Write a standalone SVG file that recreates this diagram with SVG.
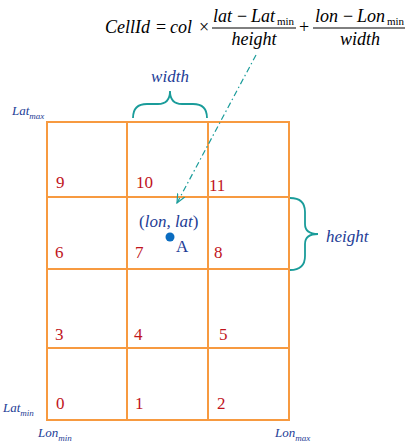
<svg xmlns="http://www.w3.org/2000/svg" width="412" height="445" viewBox="0 0 412 445">
<defs>
<style>
text{font-family:"Liberation Serif","DejaVu Serif","Times New Roman",serif}
.f{font-size:18px;fill:#000}
.i{font-style:italic}
.sub{font-size:11px;fill:#000}
.lb{font-style:italic;fill:#233C96}
.num{font-size:17px;fill:#C0141C}
.grid{fill:none;stroke:#F79A40;stroke-width:2}
.brace{fill:none;stroke:#1A9C9A;stroke-width:1.8}
</style>
<marker id="ah" viewBox="0 0 10 10" refX="9" refY="5" markerWidth="10" markerHeight="10" markerUnits="userSpaceOnUse" orient="auto">
<path d="M0,1 L9,5 L0,9" fill="none" stroke="#1A9C9A" stroke-width="1.2"/>
</marker>
</defs>
<g id="formula">
<text class="f i" x="105" y="33">CellId</text>
<text class="f" x="156" y="33">=</text>
<text class="f i" x="170" y="33">col</text>
<text class="f" x="199" y="33">×</text>
<text class="f i" x="213" y="22">lat</text>
<text class="f" x="237" y="22">−</text>
<text class="f i" x="251" y="22">Lat</text>
<text class="sub" x="277" y="25">min</text>
<line x1="212" y1="28" x2="296" y2="28" stroke="#000" stroke-width="1"/>
<text class="f i" x="254" y="45" text-anchor="middle">height</text>
<text class="f" x="299" y="33">+</text>
<text class="f i" x="315" y="22">lon</text>
<text class="f" x="343" y="22">−</text>
<text class="f i" x="357" y="22">Lon</text>
<text class="sub" x="387" y="25">min</text>
<line x1="313" y1="28" x2="405" y2="28" stroke="#000" stroke-width="1"/>
<text class="f i" x="360" y="45" text-anchor="middle">width</text>
</g>
<g id="grid">
<rect class="grid" x="47" y="122" width="242" height="298"/>
<line class="grid" x1="127" y1="122" x2="127" y2="420"/>
<line class="grid" x1="208" y1="122" x2="208" y2="420"/>
<line class="grid" x1="47" y1="197" x2="289" y2="197"/>
<line class="grid" x1="47" y1="269" x2="289" y2="269"/>
<line class="grid" x1="47" y1="348" x2="289" y2="348"/>
</g>
<g id="cells">
<text class="num" x="56" y="188">9</text>
<text class="num" x="136" y="188">10</text>
<text class="num" x="209" y="191">11</text>
<text class="num" x="55" y="258">6</text>
<text class="num" x="135" y="258">7</text>
<text class="num" x="214" y="258">8</text>
<text class="num" x="55" y="340">3</text>
<text class="num" x="134" y="340">4</text>
<text class="num" x="219" y="340">5</text>
<text class="num" x="56" y="409">0</text>
<text class="num" x="135" y="409">1</text>
<text class="num" x="217" y="409">2</text>
</g>
<g id="point">
<text class="lb" x="139" y="227" font-size="17"><tspan font-style="normal">(</tspan>lon, lat<tspan font-style="normal">)</tspan></text>
<circle cx="170" cy="237" r="4.5" fill="#0A6CC0"/>
<text x="176" y="252" font-size="17" fill="#233C96">A</text>
</g>
<g id="braces">
<path class="brace" d="M133,118 Q133,104 147,104 L158,104 Q170,104 170,91 Q170,104 182,104 L193,104 Q207,104 207,118"/>
<text class="lb" x="170" y="82" font-size="17" text-anchor="middle">width</text>
<path class="brace" d="M290,198 Q305,198 305,212 L305,224 Q305,234 318,234 Q305,234 305,244 L305,256 Q305,270 290,270"/>
<text class="lb" x="326" y="242" font-size="17">height</text>
</g>
<g id="axes">
<text class="lb" x="12" y="115" font-size="13">Lat<tspan font-size="9" dy="4">max</tspan></text>
<text class="lb" x="3" y="412" font-size="13">Lat<tspan font-size="9" dy="4">min</tspan></text>
<text class="lb" x="38" y="437" font-size="13">Lon<tspan font-size="9" dy="4">min</tspan></text>
<text class="lb" x="275" y="437" font-size="13">Lon<tspan font-size="9" dy="4">max</tspan></text>
</g>
<g id="connectors">
<line x1="256" y1="55" x2="177" y2="203" stroke="#1A9C9A" stroke-width="1.2" stroke-dasharray="6 3 1.5 3" marker-end="url(#ah)"/>
</g>
</svg>
